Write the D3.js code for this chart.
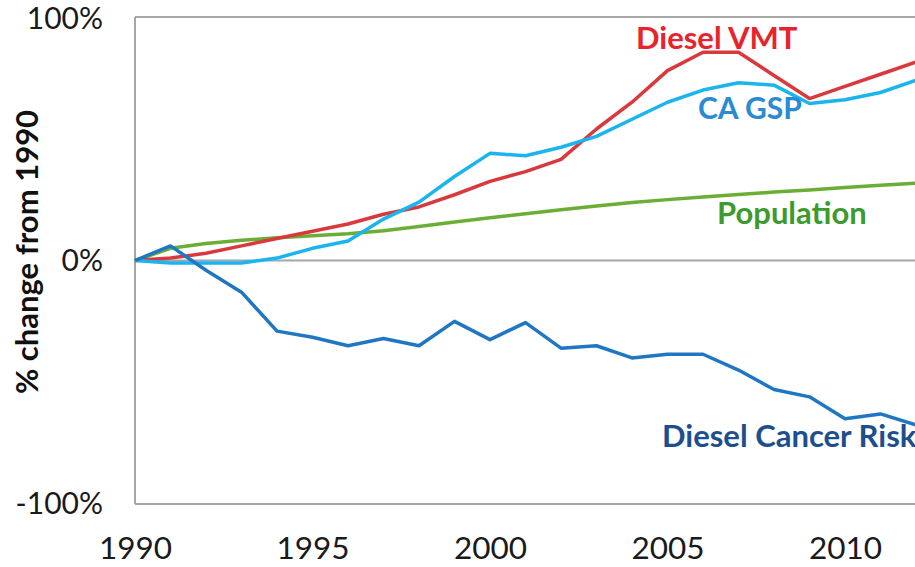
<!DOCTYPE html>
<html><head><meta charset="utf-8">
<script src="https://cdn.jsdelivr.net/npm/d3@7"></script>
<style>body{margin:0;background:#fff;} svg{display:block;}</style>
</head><body>
<svg id="chart" width="915" height="567"></svg>
<script>
const years = [1990,1991,1992,1993,1994,1995,1996,1997,1998,1999,2000,2001,2002,2003,2004,2005,2006,2007,2008,2009,2010,2011,2012];
const dieselVMT = [0,1,3,6,9,12,15,19,22,27,32.5,36.5,41.5,54,65,78,85.5,85.5,76,66.5,71.5,76.5,81.5];
const caGSP = [0,-1,-1,-1,1,5,8,17,24,34.5,44,43,46.5,51,58,65,70,73,72,64.5,66,69,74];
const population = [0,5,7,8.3,9.3,10.2,11,12.2,14,15.8,17.6,19.2,20.8,22.4,23.8,25,26.1,27.1,28.1,29,30,30.9,31.7];
const cancerRisk = [0,6,-4,-13,-29,-31.5,-35,-32,-35,-25,-32.5,-25.5,-36,-35,-40,-38.5,-38.5,-45,-53,-56,-65,-63,-67.5];
const xTicks = [1990,1995,2000,2005,2010];
const yTicks = [-100,0,100];
const yTickLabels = ["-100%","0%","100%"];

const svg = d3.select("#chart");
const x = d3.scaleLinear().domain([1990,2010]).range([135,845]);
const y = d3.scaleLinear().domain([-100,100]).range([504,17]);
const font = "Lato, 'Open Sans', sans-serif";
const frame = "#a6a6a6";

// frame
const xEnd = x(2014);
svg.append("line").attr("x1",x(1990)).attr("x2",xEnd).attr("y1",y(100)).attr("y2",y(100)).attr("stroke",frame).attr("stroke-width",2);
svg.append("line").attr("x1",x(1990)).attr("x2",xEnd).attr("y1",y(-100)).attr("y2",y(-100)).attr("stroke",frame).attr("stroke-width",2);
svg.append("line").attr("x1",x(1990)).attr("x2",xEnd).attr("y1",y(0)).attr("y2",y(0)).attr("stroke",frame).attr("stroke-width",2);
svg.append("line").attr("x1",x(1990)).attr("x2",x(1990)).attr("y1",y(100)).attr("y2",y(-100)).attr("stroke",frame).attr("stroke-width",2);

// axes
const xAxis = svg.append("g").attr("transform",`translate(0,${y(-100)})`)
  .call(d3.axisBottom(x).tickValues(xTicks).tickFormat(d3.format("d")).tickSize(0).tickPadding(33));
xAxis.select(".domain").remove();
xAxis.selectAll("text").attr("font-family",font).attr("font-size",31.5).attr("fill","#1a1a1a");

const yAxis = svg.append("g").attr("transform",`translate(${x(1990)},0)`)
  .call(d3.axisLeft(y).tickValues(yTicks).tickFormat((d,i)=>yTickLabels[i]).tickSize(0).tickPadding(32));
yAxis.select(".domain").remove();
yAxis.selectAll("text").attr("font-family",font).attr("font-size",30).attr("fill","#1a1a1a");
yAxis.selectAll(".tick").filter(d=>d===100).select("text").attr("dy","0.38em");

svg.append("text").attr("transform","translate(38,252) rotate(-90)")
  .attr("text-anchor","middle").attr("font-family",font).attr("font-weight","bold")
  .attr("font-size",31).attr("fill","#111").text("% change from 1990");

const line = d3.line().x((d,i)=>x(years[i])).y(d=>y(d));
const series = [
  {v: population, c: "#6aae36"},
  {v: dieselVMT, c: "#d9393d"},
  {v: caGSP, c: "#1ab4ef"},
  {v: cancerRisk, c: "#1f77c4"}
];
series.forEach(s=>{
  svg.append("path").datum(s.v).attr("d",line).attr("fill","none")
    .attr("stroke",s.c).attr("stroke-width",3.5).attr("stroke-linejoin","round");
});

const labels = [
  {t:"Diesel VMT", x:636, y:49, c:"#e8232b", s:31},
  {t:"CA GSP", x:698, y:119, c:"#2a8ad2", s:30},
  {t:"Population", x:717, y:224, c:"#3d9a2e", s:31},
  {t:"Diesel Cancer Risk", x:662, y:447, c:"#1d4f8f", s:31}
];
labels.forEach(l=>{
  svg.append("text").attr("x",l.x).attr("y",l.y).attr("font-family",font)
    .attr("font-weight","bold").attr("font-size",l.s).attr("fill",l.c).text(l.t);
});
</script>
</body></html>
